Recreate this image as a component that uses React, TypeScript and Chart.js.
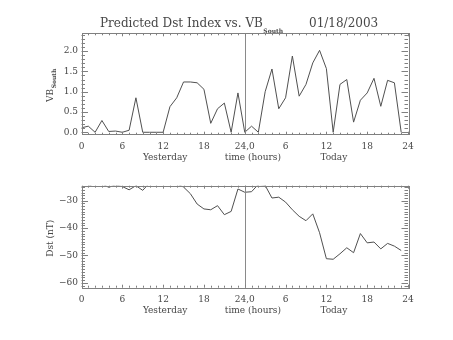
import React, { useEffect, useRef } from "react";
import { Chart, registerables } from "chart.js";

Chart.register(...registerables);

// ---- data ----
const hours = [
  0, 1, 2, 3, 4, 5, 6, 7, 8, 9, 10, 11, 12, 13, 14, 15, 16, 17, 18, 19, 20, 21, 22, 23,
  24, 25, 26, 27, 28, 29, 30, 31, 32, 33, 34, 35, 36, 37, 38, 39, 40, 41, 42, 43, 44, 45, 46, 47,
];
const vbSouth = [
  0.11, 0.15, 0.0, 0.29, 0.02, 0.03, 0.0, 0.05, 0.85, 0.0, 0.0, 0.0, 0.0, 0.63, 0.85, 1.24,
  1.24, 1.22, 1.06, 0.22, 0.58, 0.72, 0.0, 0.97, 0.0, 0.15, 0.0, 1.0, 1.56, 0.58, 0.85, 1.88,
  0.89, 1.18, 1.71, 2.02, 1.57, 0.0, 1.18, 1.3, 0.25, 0.79, 0.97, 1.33, 0.64, 1.28, 1.22, 0.0,
];
const dst = [
  -24.8, -24.8, -23.5, -23.8, -25.1, -24.2, -24.8, -26.0, -24.5, -26.2, -23.5, -23.0, -22.8,
  -23.2, -23.8, -25.0, -27.4, -31.2, -33.0, -33.3, -31.8, -35.1, -33.9, -25.7, -26.9, -26.7,
  -24.0, -24.4, -29.0, -28.7, -30.5, -33.3, -35.7, -37.3, -34.8, -41.7, -51.2, -51.4, -49.4,
  -47.2, -49.0, -42.0, -45.4, -45.1, -47.6, -45.6, -46.6, -48.2,
];
const xTickValues = [0, 6, 12, 18, 24, 30, 36, 42, 48];
const xTickLabels = ["0", "6", "12", "18", "24,0", "6", "12", "18", "24"];
const vbTickValues = [0, 0.5, 1.0, 1.5, 2.0];
const vbTickLabels = ["0.0", "0.5", "1.0", "1.5", "2.0"];
const dstTickValues = [-60, -50, -40, -30];
const dstTickLabels = ["\u221260", "\u221250", "\u221240", "\u221230"];
const dayLabels = ["Yesterday", "time (hours)", "Today"];
const dayLabelHours = [12.3, 25.2, 37.1];
const titleMain = "Predicted Dst Index vs. VB";
const titleSub = "South";
const titleDate = "01/18/2003";
const vbAxisMain = "VB";
const vbAxisSub = "South";
const dstAxisTitle = "Dst (nT)";

const FONT = "'DejaVu Serif', 'Liberation Serif', serif";
const TEXT = "#474747";
const AXIS = "#808080";
const LINE = "#505050";

type PanelOpts = {
  ymin: number;
  ymax: number;
  majorY: number[];
  majorYLabels: string[];
  minorYStep: number;
  axisMain: string;
  axisSub?: string;
  drawTitle: boolean;
};

function makePlugin(o: PanelOpts) {
  return {
    id: "idlAxes",
    afterDraw(chart: any) {
      const ctx = chart.ctx as CanvasRenderingContext2D;
      const a = chart.chartArea;
      const xs = chart.scales.x;
      const ys = chart.scales.y;
      ctx.save();
      // box
      ctx.strokeStyle = AXIS;
      ctx.lineWidth = 1;
      ctx.strokeRect(Math.round(a.left) + 0.5, Math.round(a.top) + 0.5, Math.round(a.right - a.left), Math.round(a.bottom - a.top));
      // day separator
      const xd = Math.round(xs.getPixelForValue(24)) + 0.5;
      ctx.strokeStyle = "#8a8a8a";
      ctx.beginPath();
      ctx.moveTo(xd, a.top);
      ctx.lineTo(xd, a.bottom);
      ctx.stroke();
      // x ticks
      ctx.strokeStyle = AXIS;
      ctx.beginPath();
      for (let h = 0; h <= 48; h++) {
        const x = Math.round(xs.getPixelForValue(h)) + 0.5;
        const len = h % 6 === 0 ? 3 : 2;
        ctx.moveTo(x, a.bottom);
        ctx.lineTo(x, a.bottom - len);
        ctx.moveTo(x, a.top);
        ctx.lineTo(x, a.top + len);
      }
      // y ticks
      const nMin = Math.ceil(o.ymin / o.minorYStep - 1e-6);
      const nMax = Math.floor(o.ymax / o.minorYStep + 1e-6);
      for (let n = nMin; n <= nMax; n++) {
        const v = n * o.minorYStep;
        const isMajor = o.majorY.some((m) => Math.abs(m - v) < 1e-6);
        const len = isMajor ? 6.5 : 3.5;
        const y = Math.round(ys.getPixelForValue(v)) + 0.5;
        ctx.moveTo(a.left, y);
        ctx.lineTo(a.left + len, y);
        ctx.moveTo(a.right, y);
        ctx.lineTo(a.right - len, y);
      }
      ctx.stroke();
      // tick labels
      ctx.fillStyle = TEXT;
      ctx.font = `9px ${FONT}`;
      ctx.textAlign = "center";
      ctx.textBaseline = "middle";
      xTickValues.forEach((v, i) => {
        ctx.fillText(xTickLabels[i], xs.getPixelForValue(v), a.bottom + 12);
      });
      dayLabels.forEach((t, i) => {
        ctx.fillText(t, xs.getPixelForValue(dayLabelHours[i]), a.bottom + 22.5);
      });
      ctx.textAlign = "right";
      o.majorY.forEach((v, i) => {
        ctx.fillText(o.majorYLabels[i], a.left - 3.5, ys.getPixelForValue(v));
      });
      // y axis title
      const cy = (a.top + a.bottom) / 2;
      ctx.save();
      ctx.translate(53, cy + 1.5);
      ctx.rotate(-Math.PI / 2);
      ctx.textAlign = "left";
      ctx.textBaseline = "alphabetic";
      ctx.font = `9px ${FONT}`;
      const w1 = ctx.measureText(o.axisMain).width;
      let w2 = 0;
      if (o.axisSub) {
        ctx.font = `bold 6px ${FONT}`;
        w2 = ctx.measureText(o.axisSub).width;
      }
      const start = -(w1 + w2) / 2;
      ctx.font = `9px ${FONT}`;
      ctx.fillText(o.axisMain, start, 0);
      if (o.axisSub) {
        ctx.font = `bold 6px ${FONT}`;
        ctx.fillText(o.axisSub, start + w1 + 0.5, 3);
      }
      ctx.restore();
      // title
      if (o.drawTitle) {
        ctx.textAlign = "left";
        ctx.textBaseline = "alphabetic";
        ctx.font = `12px ${FONT}`;
        const tw = ctx.measureText(titleMain).width;
        const tx = 100;
        ctx.fillText(titleMain, tx, 27);
        ctx.font = `bold 6px ${FONT}`;
        ctx.fillText(titleSub, tx + tw + 0.5, 33);
        ctx.font = `12px ${FONT}`;
        ctx.fillText(titleDate, 309, 27);
      }
      ctx.restore();
    },
  };
}

function Panel(props: {
  top: number;
  values: number[];
  padding: { left: number; right: number; top: number; bottom: number };
  opts: PanelOpts;
}) {
  const ref = useRef<HTMLCanvasElement | null>(null);
  useEffect(() => {
    if (!ref.current) return;
    const chart = new Chart(ref.current, {
      type: "line",
      data: {
        datasets: [
          {
            data: hours.map((h, i) => ({ x: h, y: props.values[i] })),
            borderColor: LINE,
            borderWidth: 1,
            pointRadius: 0,
            tension: 0,
            fill: false,
          },
        ],
      },
      options: {
        animation: false,
        responsive: false,
        events: [],
        layout: { padding: props.padding },
        scales: {
          x: { type: "linear", min: 0, max: 48, display: false },
          y: { type: "linear", min: props.opts.ymin, max: props.opts.ymax, display: false },
        },
        plugins: { legend: { display: false }, tooltip: { enabled: false } },
      },
      plugins: [makePlugin(props.opts)],
    } as any);
    return () => chart.destroy();
  }, []);
  return (
    <canvas
      ref={ref}
      width={453}
      height={170}
      style={{ position: "absolute", left: 0, top: props.top, width: 453, height: 170, display: "block" }}
    />
  );
}

export default function App() {
  return (
    <div style={{ position: "absolute", left: 0, top: 0, width: 453, height: 340, background: "#fff", overflow: "hidden" }}>
      <Panel
        top={0}
        values={vbSouth}
        padding={{ left: 81.5, right: 45, top: 33.3, bottom: 35.3 }}
        opts={{
          ymin: -0.06,
          ymax: 2.44,
          majorY: vbTickValues,
          majorYLabels: vbTickLabels,
          minorYStep: 0.1,
          axisMain: vbAxisMain,
          axisSub: vbAxisSub,
          drawTitle: true,
        }}
      />
      <Panel
        top={170}
        values={dst}
        padding={{ left: 81.5, right: 45, top: 15.7, bottom: 52.3 }}
        opts={{
          ymin: -61.8,
          ymax: -24.5,
          majorY: dstTickValues,
          majorYLabels: dstTickLabels,
          minorYStep: 1,
          axisMain: dstAxisTitle,
          drawTitle: false,
        }}
      />
    </div>
  );
}
